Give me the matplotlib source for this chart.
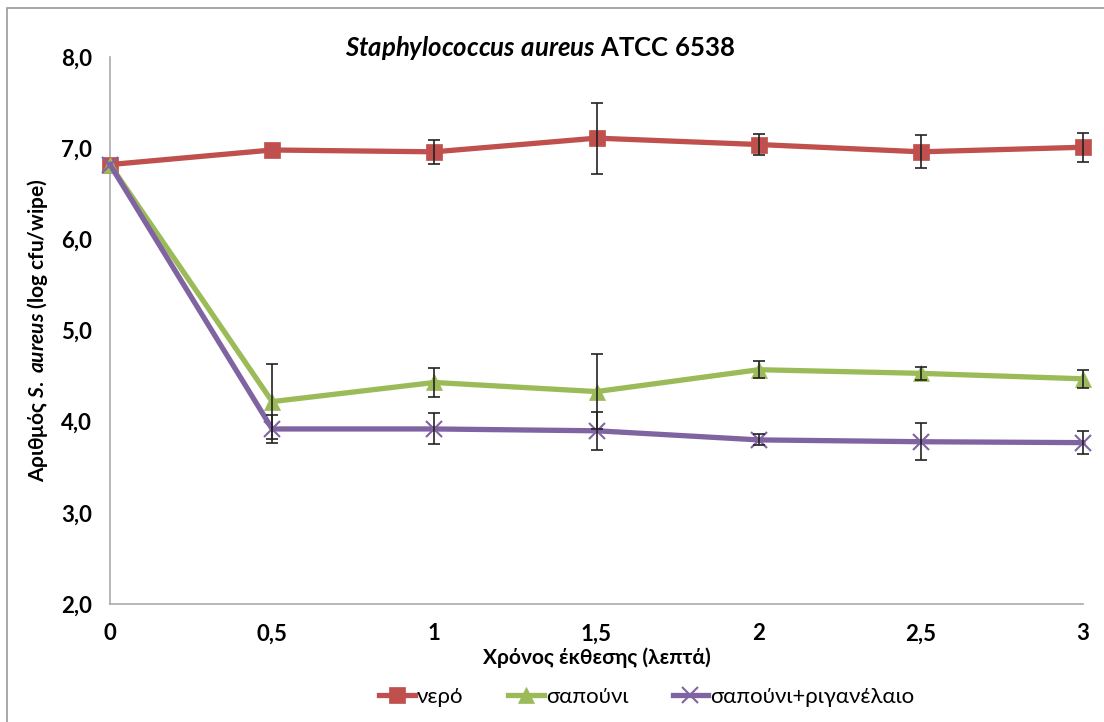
import matplotlib
matplotlib.use('Agg')
import matplotlib.pyplot as plt
import numpy as np
from matplotlib.patches import Rectangle

plt.rcParams['font.family'] = ['Lato', 'DejaVu Sans']
plt.rcParams['mathtext.fontset'] = 'custom'
plt.rcParams['mathtext.it'] = 'Lato:italic:bold'
plt.rcParams['mathtext.rm'] = 'Lato:bold'

# δεδομένα (nan = χωρίς ορατή γραμμή σφάλματος)
times = [0, 0.5, 1, 1.5, 2, 2.5, 3]
tick_labels = ['0', '0,5', '1', '1,5', '2', '2,5', '3']

nero = [6.82, 6.98, 6.96, 7.11, 7.04, 6.96, 7.01]
nero_err = [np.nan, np.nan, 0.13, 0.39, 0.12, 0.18, 0.16]

sapouni = [6.82, 4.22, 4.43, 4.33, 4.57, 4.53, 4.47]
sapouni_err = [np.nan, 0.41, 0.16, 0.41, 0.09, 0.07, 0.10]

rigan = [6.82, 3.92, 3.92, 3.90, 3.80, 3.78, 3.77]
rigan_err = [np.nan, 0.15, 0.17, 0.21, 0.06, 0.20, 0.13]

series = [
    ('νερό', nero, nero_err, '#C0504D', 's', 11),
    ('σαπούνι', sapouni, sapouni_err, '#9BBB59', '^', 11),
    ('σαπούνι+ριγανέλαιο', rigan, rigan_err, '#8064A2', 'x', 12),
]

fig = plt.figure(figsize=(11.04, 7.22), dpi=100)
ax = fig.add_axes([110 / 1104, 1 - 604 / 722, (1083 - 110) / 1104, (604 - 57) / 722])

for name, vals, err, col, mk, ms in series:
    ax.errorbar(times, vals, yerr=err, fmt='none', ecolor='#222222',
                elinewidth=1.2, capsize=4, capthick=1.2, zorder=4, clip_on=False)
    ax.plot(times, vals, color=col, linewidth=3.8, marker=mk, markersize=ms,
            markeredgewidth=1.5 if mk == 'x' else 0.5, markeredgecolor=col,
            label=name, zorder=3, clip_on=False)

ax.set_xlim(0, 3)
ax.set_ylim(2, 8)
ax.set_xticks(times)
ax.set_xticklabels(tick_labels)
ax.set_yticks([2, 3, 4, 5, 6, 7, 8])
ax.set_yticklabels(['2,0', '3,0', '4,0', '5,0', '6,0', '7,0', '8,0'])
ax.tick_params(length=0, labelsize=16)
ax.tick_params(axis='x', pad=14)
ax.tick_params(axis='y', pad=13)
for lab in ax.get_xticklabels() + ax.get_yticklabels():
    lab.set_fontweight('bold')

for s in ['top', 'right']:
    ax.spines[s].set_visible(False)
for s in ['left', 'bottom']:
    ax.spines[s].set_color('#AAAAAA')
    ax.spines[s].set_linewidth(1.2)

ax.set_xlabel('Χρόνος έκθεσης (λεπτά)', fontsize=15, fontweight='bold', labelpad=2)
ax.set_ylabel(r'Αριθμός $S.\ aureus$ (log cfu/wipe)', fontsize=15,
              fontweight='bold', labelpad=8)

fig.text(540 / 1104, 1 - 48 / 722, r'$Staphylococcus\ aureus$ ATCC 6538', fontsize=18.5,
         fontweight='bold', ha='center', va='center')

ax.legend(loc='center', bbox_to_anchor=(647 / 1104, 1 - 697 / 722),
          bbox_transform=fig.transFigure, ncol=3, frameon=False,
          fontsize=16, handlelength=1.6, handletextpad=0.1, columnspacing=2.0)

fig.patches.append(Rectangle((7 / 1104, -0.05), 1.2, 1 - 8 / 722 + 0.05,
                             transform=fig.transFigure, fill=False,
                             edgecolor='#999999', linewidth=1.2))

fig.savefig('out.png', dpi=100)
